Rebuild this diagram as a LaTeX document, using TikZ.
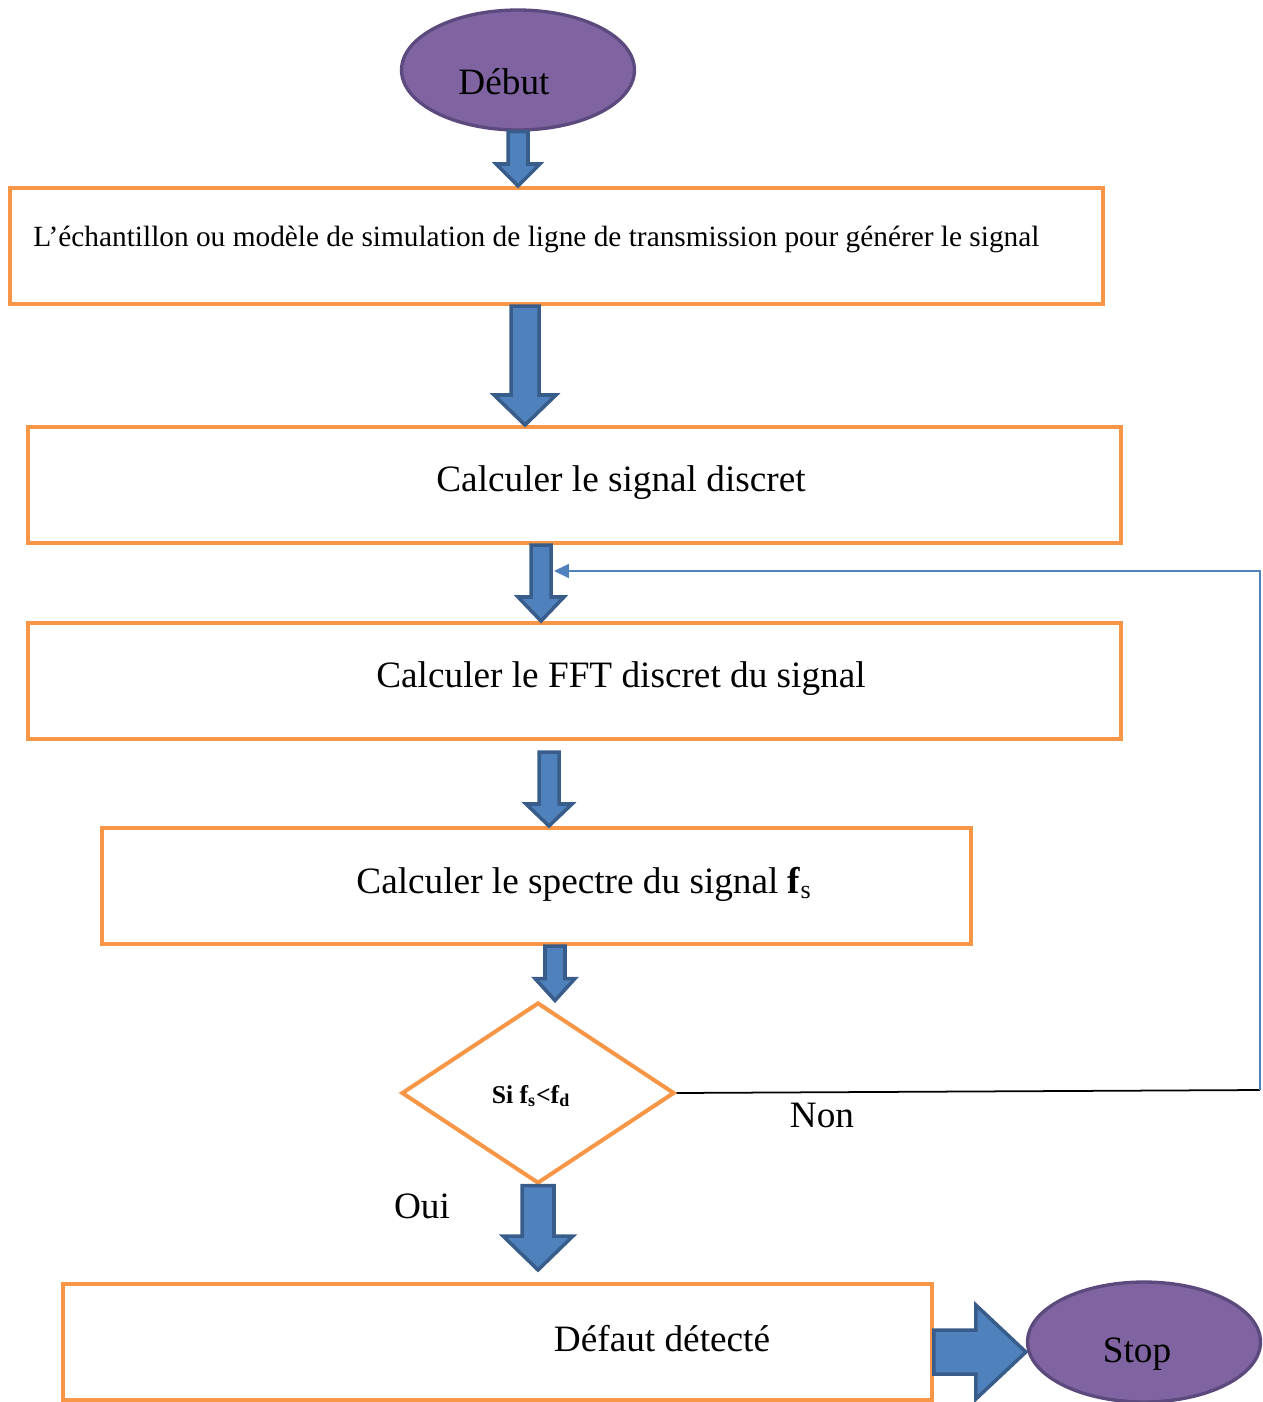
\documentclass[tikz,border=0pt]{standalone}
\usepackage{fontspec}
\setmainfont{Liberation Serif}
\usetikzlibrary{shapes.geometric, arrows.meta, calc}

\definecolor{boxorange}{HTML}{F79646}
\definecolor{endviolet}{HTML}{8064A2}
\definecolor{endborder}{HTML}{5C4A7E}
\definecolor{arrfill}{HTML}{4F81BD}
\definecolor{arrborder}{HTML}{385D8A}

\tikzset{
  stepbox/.style={draw=boxorange, line width=2.3pt, rectangle, minimum height=2.32cm},
  endnode/.style={draw=endborder, fill=endviolet, line width=1.9pt, ellipse, minimum width=4.66cm, minimum height=2.4cm},
  testbox/.style={draw=boxorange, line width=2.3pt, diamond, minimum width=5.46cm, minimum height=3.62cm, inner sep=0pt},
  blockarr/.style={draw=arrborder, fill=arrfill, line width=2pt, line join=miter},
  bigtxt/.style={font=\fontsize{21.2}{25}\selectfont},
  fbline/.style={draw=arrfill, line width=0.9pt}
}

% block arrow: start, end, half shaft, half head, head length
\newcommand{\vblock}[5]{%
  \draw[blockarr] let \p1=(#1), \p2=(#2) in
    (\x1-#3,\y1) -- (\x1+#3,\y1) -- (\x1+#3,\y2+#5) -- (\x1+#4,\y2+#5)
    -- (\x1,\y2) -- (\x1-#4,\y2+#5) -- (\x1-#3,\y2+#5) -- cycle;}
\newcommand{\hblock}[5]{%
  \draw[blockarr] let \p1=(#1), \p2=(#2) in
    (\x1,\y1+#3) -- (\x1,\y1-#3) -- (\x2-#5,\y1-#3) -- (\x2-#5,\y1-#4)
    -- (\x2,\y1) -- (\x2-#5,\y1+#4) -- (\x2-#5,\y1+#3) -- cycle;}

\begin{document}
\begin{tikzpicture}[x=0.02cm, y=-0.02cm]
	\useasboundingbox (0,0) rectangle (1262,1402);
	% Nodes:
	\node[endnode] (debut) at (518,70){};
	\node[bigtxt] (tdebut) at (504,82){Début};
	\node[stepbox, minimum width=21.86cm] (echant) at (556.5,246){};
	\node[anchor=west, inner sep=0pt, font=\fontsize{16.7}{20}\selectfont] (techant) at (33,239){L’échantillon ou modèle de simulation de ligne de transmission pour générer le signal};
	\node[stepbox, minimum width=21.86cm] (discret) at (574.5,485){};
	\node[bigtxt] (tdiscret) at (621,483){Calculer le signal discret};
	\node[stepbox, minimum width=21.86cm] (fft) at (574.5,681){};
	\node[bigtxt] (tfft) at (621,679){Calculer le FFT discret du signal};
	\node[stepbox, minimum width=17.38cm] (spectre) at (536.5,886){};
	\node[bigtxt] (tspectre) at (584,884){Calculer le spectre du signal \textbf{f}\textsubscript{s}};
	\node[testbox] (test) at (538,1093){};
	\node[font=\fontsize{14.6}{17}\selectfont\bfseries] (ttest) at (531,1096){Si f\textsubscript{s}<f\textsubscript{d}};
	\node[stepbox, minimum width=17.38cm] (defaut) at (497.5,1342){};
	\node[bigtxt] (tdefaut) at (662,1339){Défaut détecté};
	\node[endnode] (stop) at (1144,1342){};
	\node[bigtxt] (tstop) at (1137,1354){Stop};
	\node[bigtxt] (non) at (822,1115){Non};
	\node[bigtxt] (oui) at (422,1206){Oui};
	\coordinate (nonend) at (1260,1090);
	\coordinate (fbin) at (554,571);

	% Block arrows:
	\vblock{debut.south}{debut.south |- echant.north}{0.2cm}{0.44cm}{0.44cm}
	\vblock{[xshift=-0.63cm]echant.south}{[xshift=-0.63cm]echant.south |- discret.north}{0.28cm}{0.62cm}{0.6cm}
	\vblock{[xshift=-0.67cm]discret.south}{[xshift=-0.67cm]discret.south |- fft.north}{0.2cm}{0.46cm}{0.48cm}
	\vblock{[xshift=-0.51cm, yshift=-0.22cm]fft.south}{[xshift=-0.51cm]fft.south |- spectre.north}{0.2cm}{0.46cm}{0.44cm}
	\vblock{[xshift=0.37cm]spectre.south}{[xshift=0.37cm]spectre.south |- test.north}{0.2cm}{0.4cm}{0.44cm}
	\vblock{test.south}{[yshift=0.24cm]test.south |- defaut.north}{0.32cm}{0.7cm}{0.68cm}
	\hblock{[yshift=-0.2cm]defaut.east}{[yshift=-0.2cm]defaut.east -| stop.west}{0.44cm}{0.94cm}{1cm}

	% Connectors:
	\draw[line width=1pt] (test.east) -- (nonend);
	\draw[fbline, -{Triangle[length=8.5pt, width=8pt]}] (nonend) -- (nonend |- fbin) -- (fbin);
\end{tikzpicture}
\end{document}
